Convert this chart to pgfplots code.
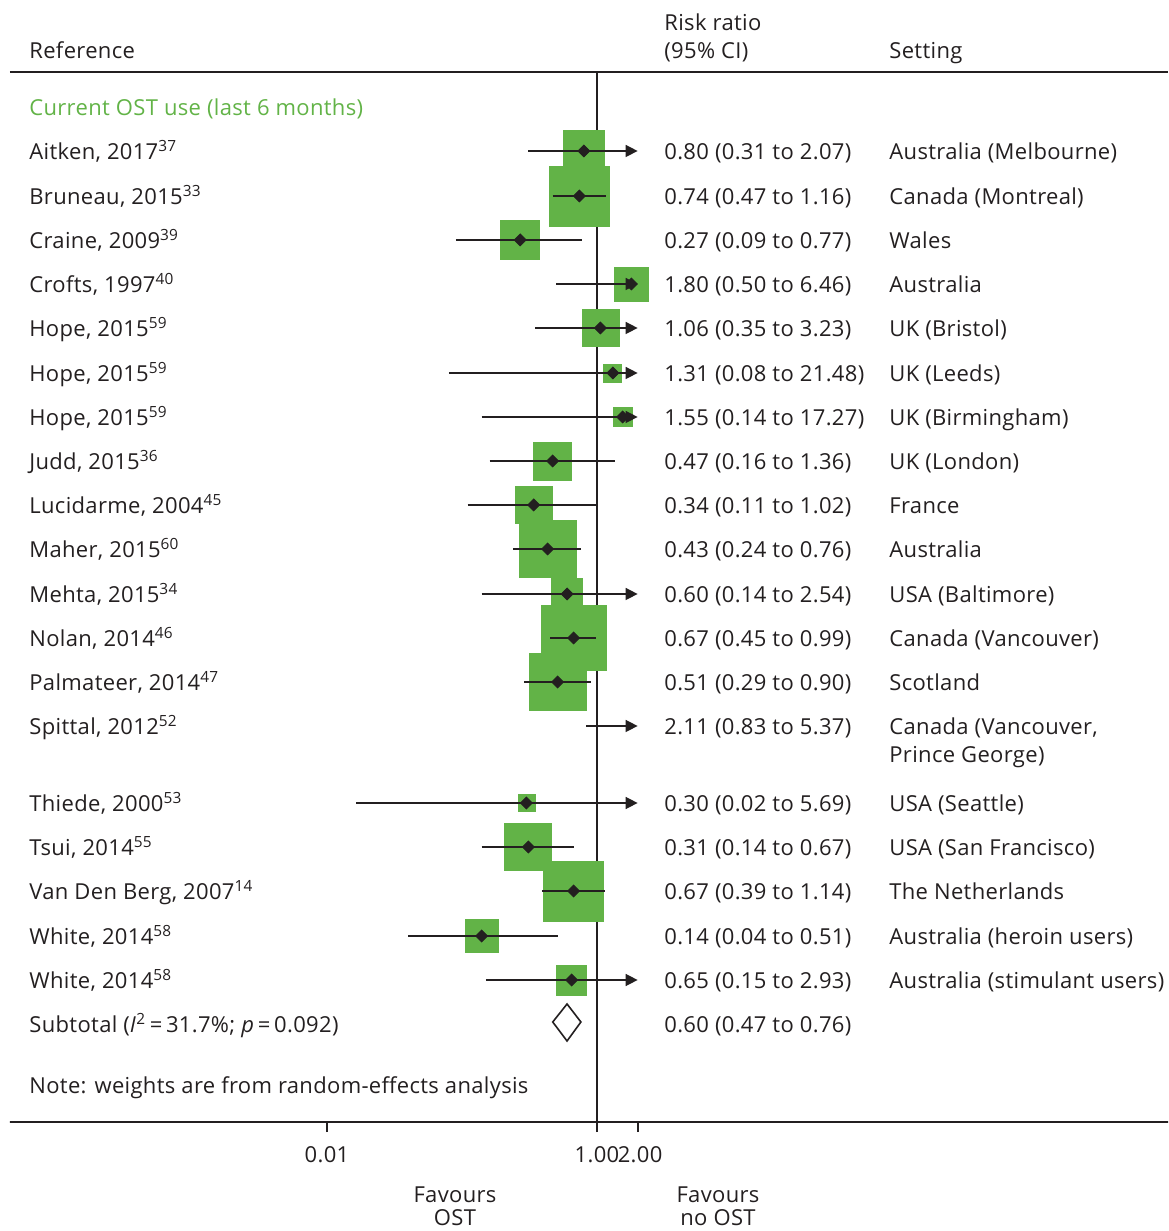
\documentclass[border=0pt]{standalone}
\usepackage{fontspec}
\setmainfont{Open Sans}[LetterSpace=1.5]
\usepackage{pgfplots}
\pgfplotsset{compat=1.18}
\usepackage{pgfplotstable}
\usetikzlibrary{arrows.meta,calc}
\definecolor{ostgreen}{RGB}{98,179,71}
\definecolor{txt}{RGB}{35,31,32}

% point estimate, row position (negative pixel row), box half-side in pt (weight)
\pgfplotstableread{
rr   y    ms
0.80 -151 10.25
0.74 -196 15.0
0.27 -240 9.75
1.80 -284 8.5
1.06 -328 9.25
1.31 -373 4.5
1.55 -417 4.75
0.47 -461 9.5
0.34 -505 9.25
0.43 -549 14.25
0.60 -594 7.75
0.67 -638 16.25
0.51 -682 14.25
0.30 -803 4.25
0.31 -847 11.75
0.67 -891 15.0
0.14 -936 8.25
0.65 -980 7.5
}\boxes

\begin{document}
\begin{tikzpicture}[font=\fontsize{11}{12}\selectfont, color=txt,
  t/.style={anchor=base west, yshift=-4.2pt, inner sep=0pt},
  tc/.style={anchor=base, yshift=-4.2pt, inner sep=0pt}]
\begin{axis}[
  scale only axis, width=579pt, height=525pt,
  xmode=log, xmin=4.486e-5, xmax=16968,
  ymin=-1122, ymax=-72,
  hide y axis, clip=false, clip marker paths=true,
  axis line style={line width=0.9pt, txt},
  xtick={0.01,1,2}, xticklabels={0.01,{1.00\hspace{5pt}},{\hspace{2.5pt}2.00}},
  xtick pos=left, xminorticks=false,
  tick align=outside, major tick length=5pt,
  tick style={line width=0.9pt, txt},
  xticklabel style={anchor=base, inner sep=0pt, yshift=-15.4pt, font=\fontsize{11}{12}\selectfont},
]
% line of no effect
\addplot[line width=0.9pt, txt] coordinates {(1,-72) (1,-1122)};
% weight boxes
\addplot[scatter, only marks, mark=square*,
  scatter/use mapped color={draw=ostgreen, fill=ostgreen},
  visualization depends on={\thisrow{ms} \as \msize},
  scatter/@pre marker code/.append style={/tikz/mark size=\msize}]
  table[x=rr, y=y]{\boxes};
% confidence intervals
\pgfplotsset{ci/.style={line width=0.75pt, txt}, cia/.style={ci, -{Triangle[length=6pt, width=6pt]}}}
\addplot[cia] coordinates {(0.31,-151) (2,-151)};
\addplot[ci]  coordinates {(0.47,-196) (1.16,-196)};
\addplot[ci]  coordinates {(0.09,-240) (0.77,-240)};
\addplot[cia] coordinates {(0.50,-284) (2,-284)};
\addplot[cia] coordinates {(0.35,-328) (2,-328)};
\addplot[cia] coordinates {(0.08,-373) (2,-373)};
\addplot[cia] coordinates {(0.14,-417) (2,-417)};
\addplot[ci]  coordinates {(0.16,-461) (1.36,-461)};
\addplot[ci]  coordinates {(0.11,-505) (1.02,-505)};
\addplot[ci]  coordinates {(0.24,-549) (0.76,-549)};
\addplot[cia] coordinates {(0.14,-594) (2,-594)};
\addplot[ci]  coordinates {(0.45,-638) (0.99,-638)};
\addplot[ci]  coordinates {(0.29,-682) (0.90,-682)};
\addplot[cia] coordinates {(0.83,-726) (2,-726)};
\addplot[cia] coordinates {(0.0165,-803) (2,-803)};
\addplot[ci]  coordinates {(0.14,-847) (0.67,-847)};
\addplot[ci]  coordinates {(0.39,-891) (1.14,-891)};
\addplot[ci]  coordinates {(0.04,-936) (0.51,-936)};
\addplot[cia] coordinates {(0.15,-980) (2,-980)};
% point estimates
\addplot[only marks, mark=square*, mark size=2.1pt, txt, mark options={rotate=45, fill=txt, draw=txt}]
  table[x=rr, y=y]{\boxes};
% pooled estimate
\addplot[line width=0.8pt, txt, fill=white] coordinates {(0.47,-1022) (0.60,-1004) (0.76,-1022) (0.60,-1041)} -- cycle;

% header
\node[t] at (axis cs:6.203e-5,-50) {Reference};
\node[t] at (axis cs:3.1348,-22) {Risk ratio};
\node[t] at (axis cs:3.1348,-50) {(95\% CI)};
\node[t] at (axis cs:145.56,-50) {Setting};
\node[t, text=ostgreen] at (axis cs:6.203e-5,-107) {Current OST use (last 6 months)};

% study labels
\node[t] at (axis cs:6.203e-5,-151) {Aitken, 2017\textsuperscript{37}};
\node[t] at (axis cs:6.203e-5,-196) {Bruneau, 2015\textsuperscript{33}};
\node[t] at (axis cs:6.203e-5,-240) {Craine, 2009\textsuperscript{39}};
\node[t] at (axis cs:6.203e-5,-284) {Crofts, 1997\textsuperscript{40}};
\node[t] at (axis cs:6.203e-5,-328) {Hope, 2015\textsuperscript{59}};
\node[t] at (axis cs:6.203e-5,-373) {Hope, 2015\textsuperscript{59}};
\node[t] at (axis cs:6.203e-5,-417) {Hope, 2015\textsuperscript{59}};
\node[t] at (axis cs:6.203e-5,-461) {Judd, 2015\textsuperscript{36}};
\node[t] at (axis cs:6.203e-5,-505) {Lucidarme, 2004\textsuperscript{45}};
\node[t] at (axis cs:6.203e-5,-549) {Maher, 2015\textsuperscript{60}};
\node[t] at (axis cs:6.203e-5,-594) {Mehta, 2015\textsuperscript{34}};
\node[t] at (axis cs:6.203e-5,-638) {Nolan, 2014\textsuperscript{46}};
\node[t] at (axis cs:6.203e-5,-682) {Palmateer, 2014\textsuperscript{47}};
\node[t] at (axis cs:6.203e-5,-726) {Spittal, 2012\textsuperscript{52}};
\node[t] at (axis cs:6.203e-5,-803) {Thiede, 2000\textsuperscript{53}};
\node[t] at (axis cs:6.203e-5,-847) {Tsui, 2014\textsuperscript{55}};
\node[t] at (axis cs:6.203e-5,-891) {Van Den Berg, 2007\textsuperscript{14}};
\node[t] at (axis cs:6.203e-5,-936) {White, 2014\textsuperscript{58}};
\node[t] at (axis cs:6.203e-5,-980) {White, 2014\textsuperscript{58}};
\node[t] at (axis cs:6.203e-5,-1024) {Subtotal (\textit{I}\textsuperscript{2}\,=\,31.7\%; \textit{p}\,=\,0.092)};
\node[t] at (axis cs:6.203e-5,-1085) {Note: weights are from random-effects analysis};

% risk ratios
\node[t] at (axis cs:3.1348,-151) {0.80 (0.31 to 2.07)};
\node[t] at (axis cs:3.1348,-196) {0.74 (0.47 to 1.16)};
\node[t] at (axis cs:3.1348,-240) {0.27 (0.09 to 0.77)};
\node[t] at (axis cs:3.1348,-284) {1.80 (0.50 to 6.46)};
\node[t] at (axis cs:3.1348,-328) {1.06 (0.35 to 3.23)};
\node[t] at (axis cs:3.1348,-373) {1.31 (0.08 to 21.48)};
\node[t] at (axis cs:3.1348,-417) {1.55 (0.14 to 17.27)};
\node[t] at (axis cs:3.1348,-461) {0.47 (0.16 to 1.36)};
\node[t] at (axis cs:3.1348,-505) {0.34 (0.11 to 1.02)};
\node[t] at (axis cs:3.1348,-549) {0.43 (0.24 to 0.76)};
\node[t] at (axis cs:3.1348,-594) {0.60 (0.14 to 2.54)};
\node[t] at (axis cs:3.1348,-638) {0.67 (0.45 to 0.99)};
\node[t] at (axis cs:3.1348,-682) {0.51 (0.29 to 0.90)};
\node[t] at (axis cs:3.1348,-726) {2.11 (0.83 to 5.37)};
\node[t] at (axis cs:3.1348,-803) {0.30 (0.02 to 5.69)};
\node[t] at (axis cs:3.1348,-847) {0.31 (0.14 to 0.67)};
\node[t] at (axis cs:3.1348,-891) {0.67 (0.39 to 1.14)};
\node[t] at (axis cs:3.1348,-936) {0.14 (0.04 to 0.51)};
\node[t] at (axis cs:3.1348,-980) {0.65 (0.15 to 2.93)};
\node[t] at (axis cs:3.1348,-1024) {0.60 (0.47 to 0.76)};

% settings
\node[t] at (axis cs:145.56,-151) {Australia (Melbourne)};
\node[t] at (axis cs:145.56,-196) {Canada (Montreal)};
\node[t] at (axis cs:145.56,-240) {Wales};
\node[t] at (axis cs:145.56,-284) {Australia};
\node[t] at (axis cs:145.56,-328) {UK (Bristol)};
\node[t] at (axis cs:145.56,-373) {UK (Leeds)};
\node[t] at (axis cs:145.56,-417) {UK (Birmingham)};
\node[t] at (axis cs:145.56,-461) {UK (London)};
\node[t] at (axis cs:145.56,-505) {France};
\node[t] at (axis cs:145.56,-549) {Australia};
\node[t] at (axis cs:145.56,-594) {USA (Baltimore)};
\node[t] at (axis cs:145.56,-638) {Canada (Vancouver)};
\node[t] at (axis cs:145.56,-682) {Scotland};
\node[t] at (axis cs:145.56,-726) {Canada (Vancouver,};
\node[t] at (axis cs:145.56,-754) {Prince George)};
\node[t] at (axis cs:145.56,-803) {USA (Seattle)};
\node[t] at (axis cs:145.56,-847) {USA (San Francisco)};
\node[t] at (axis cs:145.56,-891) {The Netherlands};
\node[t] at (axis cs:145.56,-936) {Australia (heroin users)};
\node[t] at (axis cs:145.56,-980) {Australia (stimulant users)};

% favours
\node[tc] at (axis cs:0.08873,-1194) {Favours};
\node[tc] at (axis cs:0.08873,-1217) {OST};
\node[tc] at (axis cs:7.876,-1194) {Favours};
\node[tc] at (axis cs:7.876,-1217) {no OST};
\end{axis}
\pgfresetboundingbox
\path[use as bounding box] ($(current axis.south west)+(-5pt,-54.5pt)$) rectangle ($(current axis.north east)+(0pt,36pt)$);
\end{tikzpicture}
\end{document}
